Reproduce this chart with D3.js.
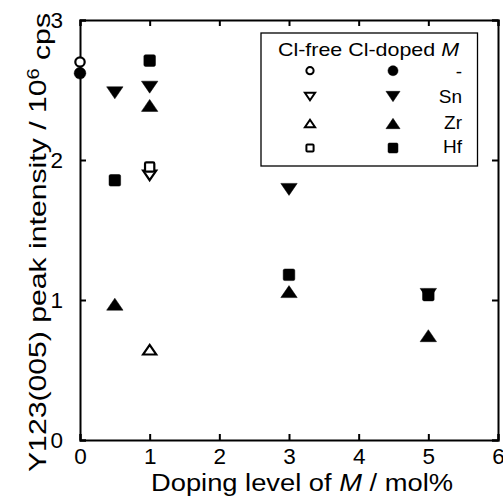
<!DOCTYPE html>
<html>
<head>
<meta charset="utf-8">
<script src="https://cdn.jsdelivr.net/npm/d3@7"></script>
<style>
  html, body { margin: 0; padding: 0; background: #fff; }
  text { font-family: "Liberation Sans", Arial, sans-serif; fill: #000; }
</style>
</head>
<body>
<svg id="chart" width="503" height="499"></svg>
<script>
// Doping levels (mol%) and Y123(005) peak intensities (10^6 cps)
const undopedX = [0];
const undopedFree = [2.70];
const undopedCl = [2.62];

const snX = [0.5, 1, 3, 5];
const snCl = [2.48, 2.52, 1.79, 1.04];
const zrCl = [0.97, 2.39, 1.06, 0.745];
const hfCl = [1.855, 2.71, 1.18, 1.035];

const clFreeX = [1];
const snFree = [1.89];
const zrFree = [0.645];
const hfFree = [1.95];

const xTicks = [0, 1, 2, 3, 4, 5, 6];
const yTicks = [0, 1, 2, 3];
const legendRows = ["-", "Sn", "Zr", "Hf"];

const svg = d3.select("#chart");
const plotLeft = 80, plotRight = 498, plotTop = 20, plotBottom = 440;

const x = d3.scaleLinear().domain([0, 6]).range([plotLeft, plotRight]);
const y = d3.scaleLinear().domain([0, 3]).range([plotBottom, plotTop]);

// circle, down-triangle, up-triangle and rounded square markers
function markerPath(kind, scale) {
  const s = scale || 1;
  if (kind === "-") return d3.symbol(d3.symbolCircle, 108 * s * s)();
  if (kind === "Hf") {
    const h = 5.8 * s, r = 1.6 * s;
    return `M${-h + r},${-h}H${h - r}Q${h},${-h} ${h},${-h + r}V${h - r}Q${h},${h} ${h - r},${h}H${-h + r}Q${-h},${h} ${-h},${h - r}V${-h + r}Q${-h},${-h} ${-h + r},${-h}Z`;
  }
  const w = 8.2 * s, hh = 6 * s;
  if (kind === "Zr") return `M0,${-hh}L${w},${hh}L${-w},${hh}Z`;
  return `M0,${hh}L${w},${-hh}L${-w},${-hh}Z`;
}

function drawSeries(xs, ys, kind, filled) {
  svg.append("g").selectAll("path")
    .data(xs.map((d, i) => [d, ys[i]]))
    .join("path")
    .attr("d", markerPath(kind, filled ? 1 : 0.8))
    .attr("transform", d => `translate(${x(d[0])},${y(d[1])})`)
    .attr("fill", filled ? "#000" : "#fff")
    .attr("stroke", "#000")
    .attr("stroke-width", filled ? 0.5 : 2.2);
}

// axes frame with inward ticks
const axBottom = svg.append("g").attr("transform", `translate(0,${plotBottom})`)
  .call(d3.axisBottom(x).tickValues(xTicks).tickSize(-6).tickPadding(8).tickFormat(d3.format("d")));
const axTop = svg.append("g").attr("transform", `translate(0,${plotTop})`)
  .call(d3.axisTop(x).tickValues(xTicks).tickSize(-6).tickFormat(""));
const axLeft = svg.append("g").attr("transform", `translate(${plotLeft},0)`)
  .call(d3.axisLeft(y).tickValues(yTicks).tickSize(-6).tickPadding(17).tickFormat(d3.format("d")));
const axRight = svg.append("g").attr("transform", `translate(${plotRight},0)`)
  .call(d3.axisRight(y).tickValues(yTicks).tickSize(-6).tickFormat(""));

[axBottom, axTop, axLeft, axRight].forEach(g => {
  g.select(".domain").attr("stroke", "#000").attr("stroke-width", 2);
  g.selectAll(".tick line").attr("stroke", "#000").attr("stroke-width", 2);
  g.selectAll(".tick text").style("font-size", "22.5px").attr("font-family", "Liberation Sans, Arial, sans-serif");
});

// data markers
drawSeries(undopedX, undopedFree, "-", false);
drawSeries(undopedX, undopedCl, "-", true);
drawSeries(clFreeX, snFree, "Sn", false);
drawSeries(clFreeX, hfFree, "Hf", false);
drawSeries(clFreeX, zrFree, "Zr", false);
drawSeries(snX, snCl, "Sn", true);
drawSeries(snX, zrCl, "Zr", true);
drawSeries(snX, hfCl, "Hf", true);

// legend
const lg = svg.append("g");
lg.append("rect").attr("x", 261).attr("y", 33).attr("width", 216.5).attr("height", 133)
  .attr("fill", "#fff").attr("stroke", "#000").attr("stroke-width", 1.3);
const head = lg.append("text").attr("x", 278).attr("y", 56)
  .attr("textLength", 181).attr("lengthAdjust", "spacingAndGlyphs")
  .style("font-size", "18.5px");
head.append("tspan").text("Cl-free Cl-doped ");
head.append("tspan").attr("font-style", "italic").text("M");
const rowY = [70.7, 96.5, 123.5, 148];
const rowBase = [78, 103.3, 128.5, 153];
legendRows.forEach((k, i) => {
  lg.append("path").attr("d", markerPath(k, 0.62))
    .attr("transform", `translate(310,${rowY[i]})`)
    .attr("fill", "#fff").attr("stroke", "#000").attr("stroke-width", 2);
  lg.append("path").attr("d", markerPath(k, 0.86))
    .attr("transform", `translate(393,${rowY[i]})`)
    .attr("fill", "#000").attr("stroke", "#000").attr("stroke-width", 0.5);
  lg.append("text").attr("x", 462).attr("y", rowBase[i])
    .attr("text-anchor", "end").style("font-size", "19px").text(k);
});

// axis titles
const xt = svg.append("text").attr("x", 151).attr("y", 491)
  .attr("textLength", 302).attr("lengthAdjust", "spacingAndGlyphs")
  .style("font-size", "23.5px");
xt.append("tspan").text("Doping level of ");
xt.append("tspan").attr("font-style", "italic").text("M");
xt.append("tspan").text(" / mol%");

const yt = svg.append("text").attr("transform", "translate(46,472) rotate(-90)")
  .attr("textLength", 459).attr("lengthAdjust", "spacingAndGlyphs")
  .style("font-size", "24px");
yt.append("tspan").text("Y123(005) peak intensity / 10");
yt.append("tspan").attr("dy", "-0.45em").style("font-size", "16px").text("6");
yt.append("tspan").attr("dy", "0.45em").text(" cps");
</script>
</body>
</html>
